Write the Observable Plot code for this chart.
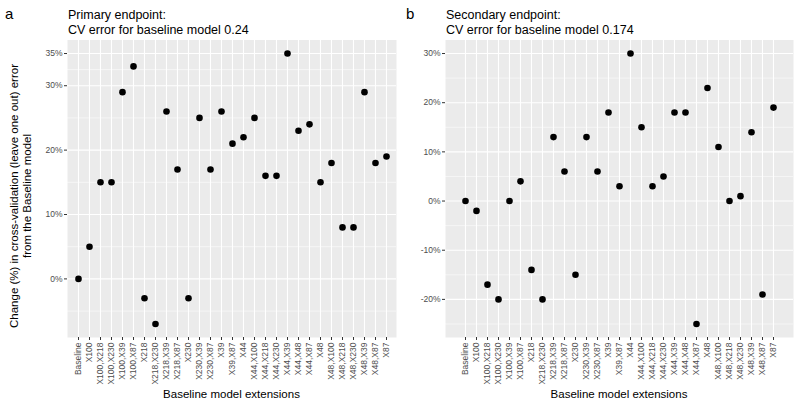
<!DOCTYPE html>
<html><head><meta charset="utf-8">
<script src="https://cdn.jsdelivr.net/npm/d3@7"></script>
<script src="https://cdn.jsdelivr.net/npm/@observablehq/plot@0.6"></script>
<style>
body{margin:0;background:#fff;font-family:"Liberation Sans",Arial,sans-serif;}
#wrap{position:relative;width:800px;height:406px;overflow:hidden;}
.abs{position:absolute;white-space:nowrap;color:#000;}
.tag{font-size:15px;}
.ttl{font-size:12.5px;line-height:14.5px;}
.xl{font-size:11.5px;text-align:center;}
.yl{font-size:11.5px;line-height:13px;text-align:center;transform:rotate(-90deg);transform-origin:center center;}
</style></head>
<body><div id="wrap"></div>
<script>
const categories = ["Baseline","X100","X100,X218","X100,X230","X100,X39","X100,X87","X218","X218,X230","X218,X39","X218,X87","X230","X230,X39","X230,X87","X39","X39,X87","X44","X44,X100","X44,X218","X44,X230","X44,X39","X44,X48","X44,X87","X48","X48,X100","X48,X218","X48,X230","X48,X39","X48,X87","X87"];
const primaryValues = [0,5,15,15,29,33,-3,-7,26,17,-3,25,17,26,21,22,25,16,16,35,23,24,15,18,8,8,29,18,19];
const secondaryValues = [0,-2,-17,-20,0,4,-14,-20,13,6,-15,13,6,18,3,30,15,3,5,18,18,-25,23,11,0,1,14,-19,19];
const primaryTicks = [0,10,20,30,35];
const primaryMinor = [-5,5,15,25,32.5];
const secondaryTicks = [-20,-10,0,10,20,30];
const secondaryMinor = [-25,-15,-5,5,15,25];
const panelTags = ["a","b"];
const panelTitles = ["Primary endpoint:\nCV error for baseline model 0.24","Secondary endpoint:\nCV error for baseline model 0.174"];
const xTitle = "Baseline model extensions";
const yTitle = "Change (%) in cross-validation (leave one out) error\nfrom the Baseline model";

const wrap = document.getElementById("wrap");
function addText(cls, txt, left, top, extra) {
  const d = document.createElement("div");
  d.className = "abs " + cls;
  d.style.left = left + "px"; d.style.top = top + "px";
  d.innerHTML = txt.replace(/\n/g, "<br>");
  if (extra) Object.assign(d.style, extra);
  wrap.appendChild(d);
  return d;
}

function panel(values, domain, ticks, minor, left, mL, mR) {
  const data = categories.map((c, i) => ({cat: c, v: values[i]}));
  const svg = Plot.plot({
    width: 400, height: 368,
    marginLeft: mL, marginRight: mR, marginTop: 1.5, marginBottom: 69,
    style: {fontFamily: "'Liberation Sans', Arial, sans-serif", background: "transparent"},
    x: {type: "point", domain: categories, padding: 0.6, label: null},
    y: {domain: domain, label: null},
    marks: [
      Plot.frame({fill: "#ebebeb", stroke: null}),
      Plot.ruleY(minor, {stroke: "#fff", strokeWidth: 0.55}),
      Plot.ruleY(ticks, {stroke: "#fff", strokeWidth: 1.1}),
      Plot.ruleX(categories, {stroke: "#fff", strokeWidth: 1.1}),
      Plot.axisY({ticks: ticks, tickFormat: d => d + "%", tickSize: 3, tickPadding: 2, fontSize: 8.5, color: "#4d4d4d", stroke: "#333", label: null}),
      Plot.axisX({tickRotate: -90, tickSize: 3, tickPadding: 2, fontSize: 8.5, color: "#4d4d4d", stroke: "#333", label: null}),
      Plot.dot(data, {x: "cat", y: "v", r: 3.3, fill: "#000", stroke: null})
    ]
  });
  svg.style.position = "absolute";
  svg.style.left = left + "px";
  svg.style.top = "38px";
  wrap.appendChild(svg);
}

panel(primaryValues, [-9.1, 37.1], primaryTicks, primaryMinor, 0, 67, 4);
panel(secondaryValues, [-27.75, 32.75], secondaryTicks, secondaryMinor, 400, 45, 7);

addText("tag", panelTags[0], 5, 5);
addText("tag", panelTags[1], 406, 5);
addText("ttl", panelTitles[0], 68, 8);
addText("ttl", panelTitles[1], 446, 8);
addText("xl", xTitle, 67, 388, {width: "329px"});
addText("xl", xTitle, 445, 388, {width: "348px"});
const yl = addText("yl", yTitle, 0, 0, {width: "320px"});
const w = 320, h = 26;
yl.style.left = (21 - w / 2) + "px";
yl.style.top = (196 - h / 2) + "px";
</script></body></html>
